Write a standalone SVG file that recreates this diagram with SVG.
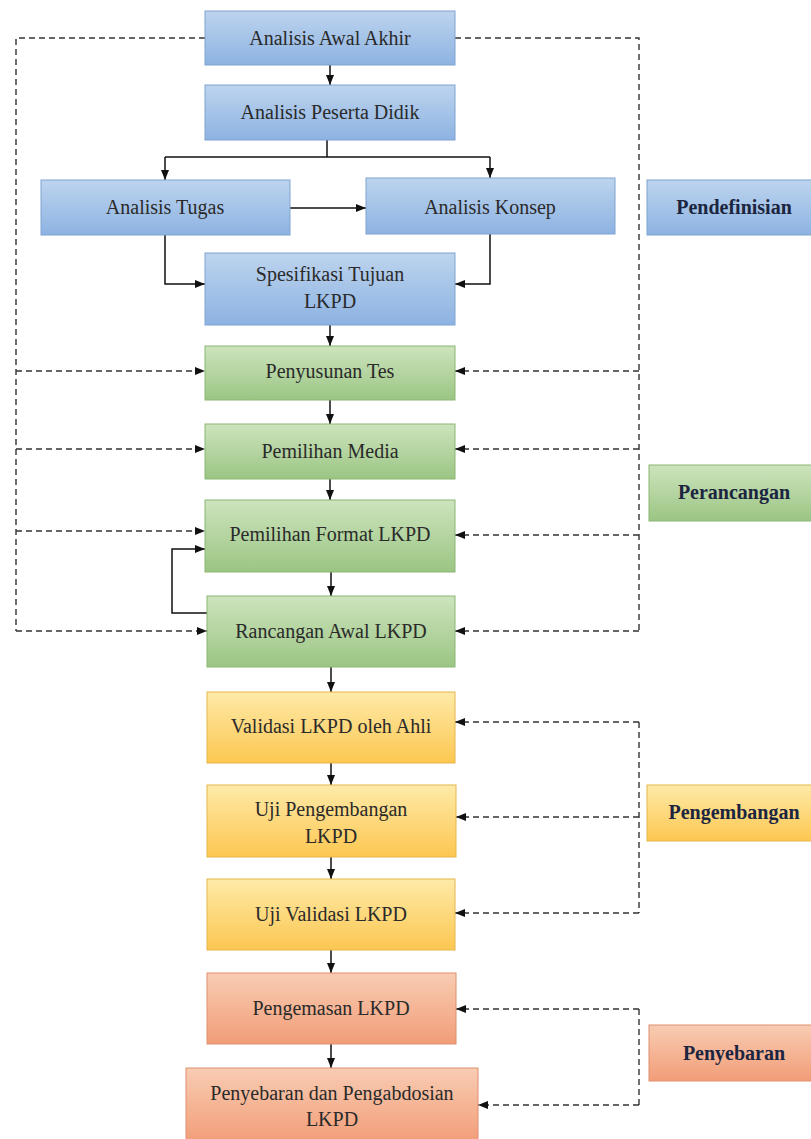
<svg xmlns="http://www.w3.org/2000/svg" width="811" height="1139" viewBox="0 0 811 1139" font-family="Liberation Serif, Tinos, Times New Roman, serif">
<defs>
<linearGradient id="gBlue" x1="0" y1="0" x2="0" y2="1"><stop offset="0" stop-color="#bdd4ee"/><stop offset="1" stop-color="#8db3e2"/></linearGradient>
<linearGradient id="gGreen" x1="0" y1="0" x2="0" y2="1"><stop offset="0" stop-color="#cde4bd"/><stop offset="1" stop-color="#9bc584"/></linearGradient>
<linearGradient id="gYellow" x1="0" y1="0" x2="0" y2="1"><stop offset="0" stop-color="#feeaa8"/><stop offset="1" stop-color="#fcc751"/></linearGradient>
<linearGradient id="gSalmon" x1="0" y1="0" x2="0" y2="1"><stop offset="0" stop-color="#f8ccb3"/><stop offset="1" stop-color="#f29d77"/></linearGradient>
<marker id="ah" viewBox="0 0 10 8" refX="10" refY="4" markerWidth="10" markerHeight="8" markerUnits="userSpaceOnUse" orient="auto"><path d="M0,0 L10,4 L0,8 z" fill="#111"/></marker>
</defs>
<style>
.blue{fill:url(#gBlue);stroke:#7fa3cf;stroke-width:1}
.green{fill:url(#gGreen);stroke:#8ab673;stroke-width:1}
.yellow{fill:url(#gYellow);stroke:#e6b54c;stroke-width:1}
.salmon{fill:url(#gSalmon);stroke:#de8f70;stroke-width:1}
.t{font-family:"Liberation Serif",serif;font-size:20px;fill:#2a2a2a;text-anchor:middle}
.b{font-family:"Liberation Serif",serif;font-size:20px;font-weight:bold;fill:#1c2540;text-anchor:middle}
.s{fill:none;stroke:#111;stroke-width:1.5}
.d{fill:none;stroke:#333;stroke-width:1.4;stroke-dasharray:6 4}
</style>
<g id="connectors">
<path class="s" d="M330,65 V85" marker-end="url(#ah)"/>
<path class="s" d="M327,140 V157"/>
<path class="s" d="M165,157 H490"/>
<path class="s" d="M165,157 V180" marker-end="url(#ah)"/>
<path class="s" d="M490,157 V178" marker-end="url(#ah)"/>
<path class="s" d="M290,208 H366" marker-end="url(#ah)"/>
<path class="s" d="M165,235 V284 H205" marker-end="url(#ah)"/>
<path class="s" d="M490,234 V284 H455" marker-end="url(#ah)"/>
<path class="s" d="M330,325 V346" marker-end="url(#ah)"/>
<path class="s" d="M330,400 V424" marker-end="url(#ah)"/>
<path class="s" d="M330,479 V500" marker-end="url(#ah)"/>
<path class="s" d="M331,572 V596" marker-end="url(#ah)"/>
<path class="s" d="M331,667 V692" marker-end="url(#ah)"/>
<path class="s" d="M331,763 V785" marker-end="url(#ah)"/>
<path class="s" d="M331,857 V879" marker-end="url(#ah)"/>
<path class="s" d="M331,950 V973" marker-end="url(#ah)"/>
<path class="s" d="M331,1044 V1068" marker-end="url(#ah)"/>
<path class="s" d="M207,613 H172 V549 H205" marker-end="url(#ah)"/>
<path class="d" d="M205,38 H16 V631"/>
<path class="d" d="M16,371 H205" marker-end="url(#ah)"/>
<path class="d" d="M16,449 H205" marker-end="url(#ah)"/>
<path class="d" d="M16,531 H205" marker-end="url(#ah)"/>
<path class="d" d="M16,631 H207" marker-end="url(#ah)"/>
<path class="d" d="M455,38 H639 V631"/>
<path class="d" d="M639,371 H455" marker-end="url(#ah)"/>
<path class="d" d="M639,449 H455" marker-end="url(#ah)"/>
<path class="d" d="M639,535 H455" marker-end="url(#ah)"/>
<path class="d" d="M639,631 H455" marker-end="url(#ah)"/>
<path class="d" d="M639,722 V913"/>
<path class="d" d="M639,722 H455" marker-end="url(#ah)"/>
<path class="d" d="M639,817 H456" marker-end="url(#ah)"/>
<path class="d" d="M639,913 H455" marker-end="url(#ah)"/>
<path class="d" d="M639,1009 V1105"/>
<path class="d" d="M639,1009 H456" marker-end="url(#ah)"/>
<path class="d" d="M639,1105 H478" marker-end="url(#ah)"/>
</g>
<g id="n1"><rect class="blue" x="205" y="11" width="250" height="54"/><text class="t" x="330" y="45">Analisis Awal Akhir</text></g>
<g id="n2"><rect class="blue" x="205" y="85" width="250" height="55"/><text class="t" x="330" y="119">Analisis Peserta Didik</text></g>
<g id="n3"><rect class="blue" x="41" y="180" width="249" height="55"/><text class="t" x="165" y="214">Analisis Tugas</text></g>
<g id="n4"><rect class="blue" x="366" y="178" width="249" height="56"/><text class="t" x="490" y="214">Analisis Konsep</text></g>
<g id="n5"><rect class="blue" x="205" y="253" width="250" height="72"/><text class="t" x="330" y="281">Spesifikasi Tujuan</text><text class="t" x="330" y="308">LKPD</text></g>
<g id="l1"><rect class="blue" x="647" y="180" width="170" height="55"/><text class="b" x="734" y="214">Pendefinisian</text></g>
<g id="n6"><rect class="green" x="205" y="346" width="250" height="54"/><text class="t" x="330" y="378">Penyusunan Tes</text></g>
<g id="n7"><rect class="green" x="205" y="424" width="250" height="55"/><text class="t" x="330" y="458">Pemilihan Media</text></g>
<g id="n8"><rect class="green" x="205" y="500" width="250" height="72"/><text class="t" x="330" y="541">Pemilihan Format LKPD</text></g>
<g id="n9"><rect class="green" x="207" y="596" width="248" height="71"/><text class="t" x="331" y="638">Rancangan Awal LKPD</text></g>
<g id="l2"><rect class="green" x="649" y="465" width="168" height="56"/><text class="b" x="734" y="499">Perancangan</text></g>
<g id="n10"><rect class="yellow" x="207" y="692" width="248" height="71"/><text class="t" x="331" y="733">Validasi LKPD oleh Ahli</text></g>
<g id="n11"><rect class="yellow" x="207" y="785" width="249" height="72"/><text class="t" x="331" y="816">Uji Pengembangan</text><text class="t" x="331" y="843">LKPD</text></g>
<g id="n12"><rect class="yellow" x="207" y="879" width="248" height="71"/><text class="t" x="331" y="921">Uji Validasi LKPD</text></g>
<g id="l3"><rect class="yellow" x="647" y="785" width="170" height="56"/><text class="b" x="734" y="819">Pengembangan</text></g>
<g id="n13"><rect class="salmon" x="207" y="973" width="249" height="71"/><text class="t" x="331" y="1015">Pengemasan LKPD</text></g>
<g id="n14"><rect class="salmon" x="186" y="1068" width="292" height="75"/><text class="t" x="332" y="1100">Penyebaran dan Pengabdosian</text><text class="t" x="332" y="1126">LKPD</text></g>
<g id="l4"><rect class="salmon" x="649" y="1025" width="168" height="56"/><text class="b" x="734" y="1060">Penyebaran</text></g>
</svg>
